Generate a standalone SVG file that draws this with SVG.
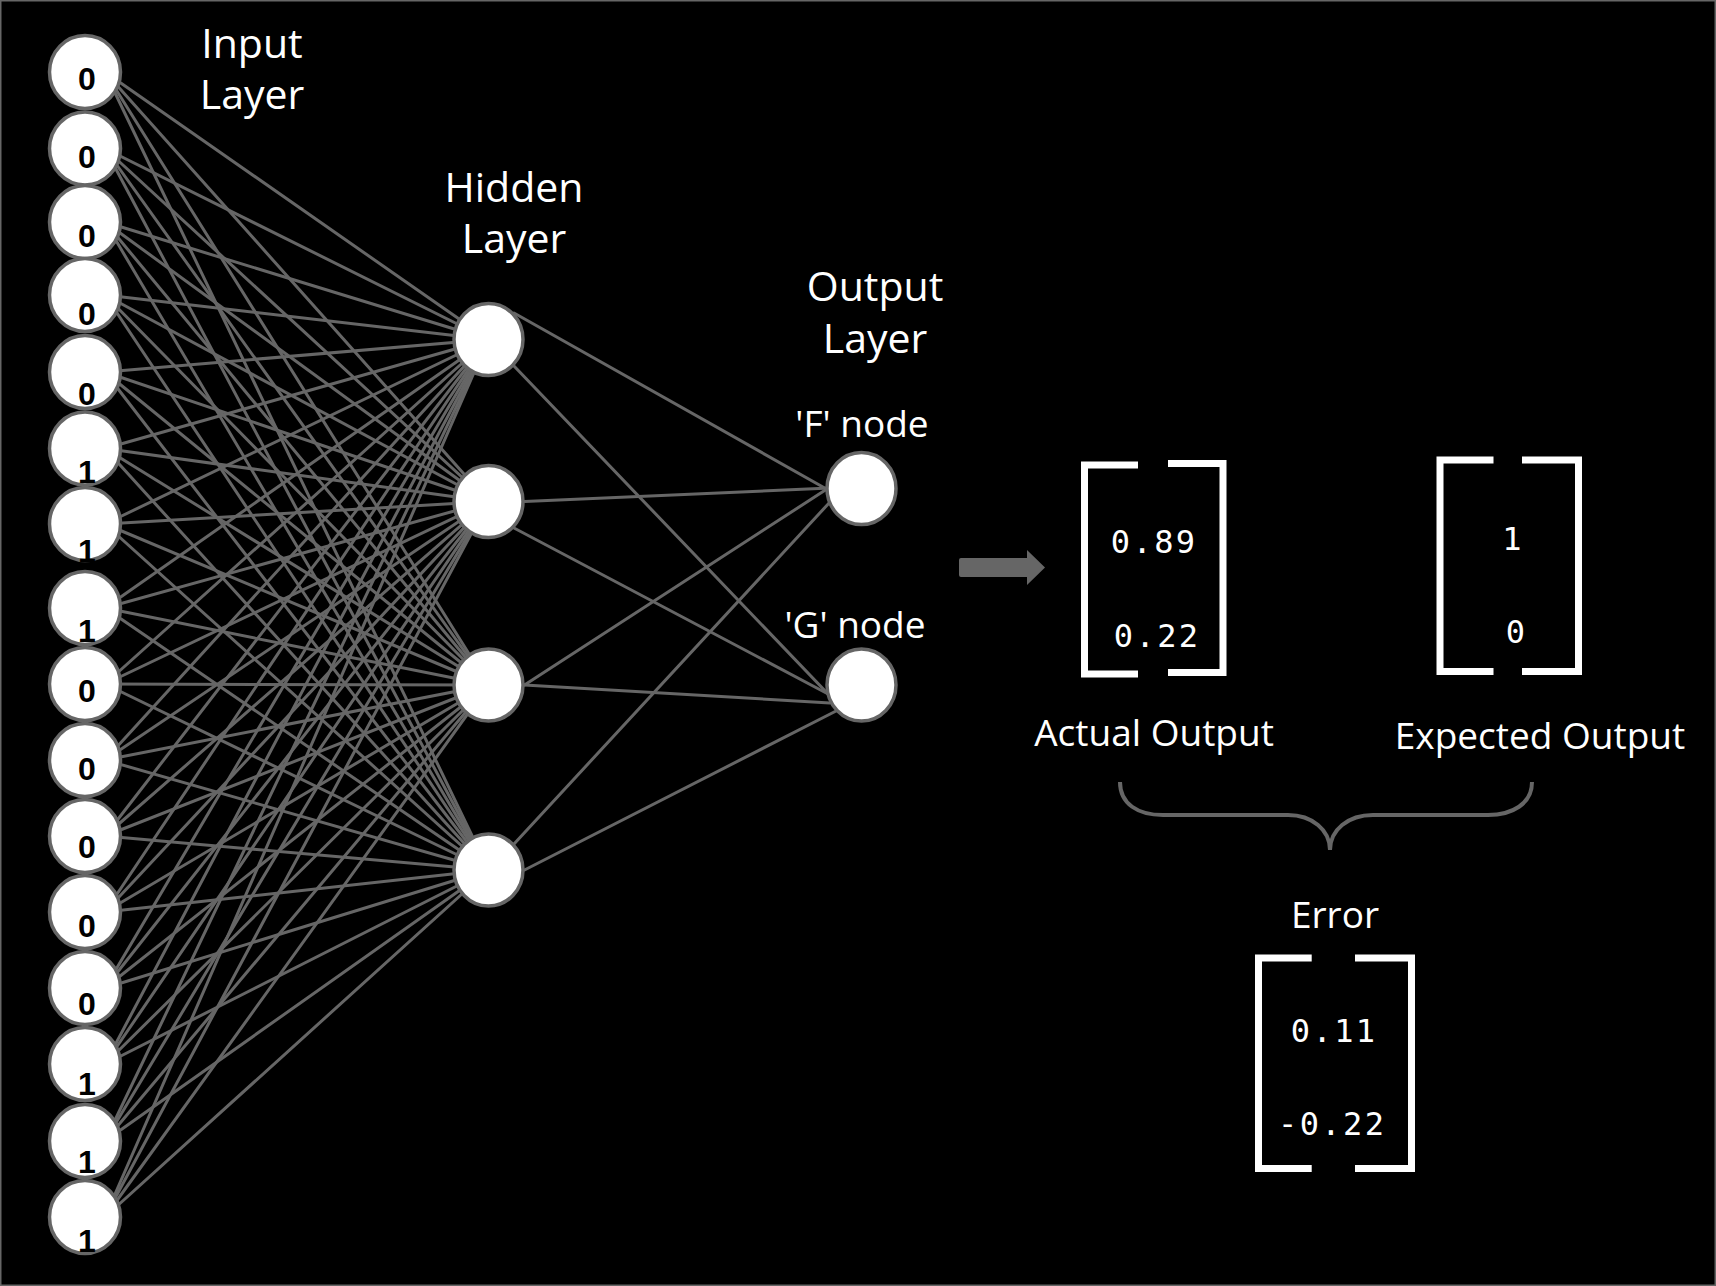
<svg xmlns="http://www.w3.org/2000/svg" width="1716" height="1286" viewBox="0 0 1716 1286">
<defs>
<style>
.lbl{font-family:"Open Sans","Noto Sans","DejaVu Sans",sans-serif;fill:#fff;text-anchor:middle}
.big{font-size:41px}
.mid{font-size:37px}
.dig{font-family:"Liberation Sans",Arial,sans-serif;font-weight:bold;font-size:32px;fill:#000;text-anchor:middle}
.num{font-family:"DejaVu Sans Mono","Liberation Mono",monospace;font-size:32px;letter-spacing:2.4px;fill:#fff;text-anchor:middle}
.inode{fill:#fff;stroke:#666;stroke-width:3.5}
.brk{fill:none;stroke:#fff;stroke-width:7}
</style>
</defs>
<rect x="0.75" y="0.75" width="1714.5" height="1284.5" fill="#000" stroke="#666" stroke-width="1.5"/>

<g id="connectors" stroke="#666" stroke-width="3" fill="none" stroke-linecap="round">
<line x1="105" y1="72" x2="488.5" y2="339.5"/><line x1="105" y1="72" x2="488.5" y2="501.5"/><line x1="105" y1="72" x2="488.5" y2="685"/><line x1="105" y1="72" x2="488.5" y2="870"/>
<line x1="105" y1="148.5" x2="488.5" y2="339.5"/><line x1="105" y1="148.5" x2="488.5" y2="501.5"/><line x1="105" y1="148.5" x2="488.5" y2="685"/><line x1="105" y1="148.5" x2="488.5" y2="870"/>
<line x1="105" y1="222" x2="488.5" y2="339.5"/><line x1="105" y1="222" x2="488.5" y2="501.5"/><line x1="105" y1="222" x2="488.5" y2="685"/><line x1="105" y1="222" x2="488.5" y2="870"/>
<line x1="105" y1="295" x2="488.5" y2="339.5"/><line x1="105" y1="295" x2="488.5" y2="501.5"/><line x1="105" y1="295" x2="488.5" y2="685"/><line x1="105" y1="295" x2="488.5" y2="870"/>
<line x1="105" y1="372" x2="488.5" y2="339.5"/><line x1="105" y1="372" x2="488.5" y2="501.5"/><line x1="105" y1="372" x2="488.5" y2="685"/><line x1="105" y1="372" x2="488.5" y2="870"/>
<line x1="105" y1="448.5" x2="488.5" y2="339.5"/><line x1="105" y1="448.5" x2="488.5" y2="501.5"/><line x1="105" y1="448.5" x2="488.5" y2="685"/><line x1="105" y1="448.5" x2="488.5" y2="870"/>
<line x1="105" y1="524" x2="488.5" y2="339.5"/><line x1="105" y1="524" x2="488.5" y2="501.5"/><line x1="105" y1="524" x2="488.5" y2="685"/><line x1="105" y1="524" x2="488.5" y2="870"/>
<line x1="105" y1="608" x2="488.5" y2="339.5"/><line x1="105" y1="608" x2="488.5" y2="501.5"/><line x1="105" y1="608" x2="488.5" y2="685"/><line x1="105" y1="608" x2="488.5" y2="870"/>
<line x1="105" y1="684" x2="488.5" y2="339.5"/><line x1="105" y1="684" x2="488.5" y2="501.5"/><line x1="105" y1="684" x2="488.5" y2="685"/><line x1="105" y1="684" x2="488.5" y2="870"/>
<line x1="105" y1="760" x2="488.5" y2="339.5"/><line x1="105" y1="760" x2="488.5" y2="501.5"/><line x1="105" y1="760" x2="488.5" y2="685"/><line x1="105" y1="760" x2="488.5" y2="870"/>
<line x1="105" y1="836" x2="488.5" y2="339.5"/><line x1="105" y1="836" x2="488.5" y2="501.5"/><line x1="105" y1="836" x2="488.5" y2="685"/><line x1="105" y1="836" x2="488.5" y2="870"/>
<line x1="105" y1="912" x2="488.5" y2="339.5"/><line x1="105" y1="912" x2="488.5" y2="501.5"/><line x1="105" y1="912" x2="488.5" y2="685"/><line x1="105" y1="912" x2="488.5" y2="870"/>
<line x1="105" y1="988" x2="488.5" y2="339.5"/><line x1="105" y1="988" x2="488.5" y2="501.5"/><line x1="105" y1="988" x2="488.5" y2="685"/><line x1="105" y1="988" x2="488.5" y2="870"/>
<line x1="105" y1="1064" x2="488.5" y2="339.5"/><line x1="105" y1="1064" x2="488.5" y2="501.5"/><line x1="105" y1="1064" x2="488.5" y2="685"/><line x1="105" y1="1064" x2="488.5" y2="870"/>
<line x1="105" y1="1141" x2="488.5" y2="339.5"/><line x1="105" y1="1141" x2="488.5" y2="501.5"/><line x1="105" y1="1141" x2="488.5" y2="685"/><line x1="105" y1="1141" x2="488.5" y2="870"/>
<line x1="105" y1="1217" x2="488.5" y2="339.5"/><line x1="105" y1="1217" x2="488.5" y2="501.5"/><line x1="105" y1="1217" x2="488.5" y2="685"/><line x1="105" y1="1217" x2="488.5" y2="870"/>
<line x1="514" y1="313" x2="830" y2="491"/>
<line x1="514" y1="366" x2="830" y2="696"/>
<line x1="524.5" y1="501.5" x2="830" y2="488"/>
<line x1="514" y1="528" x2="830" y2="695"/>
<line x1="524.5" y1="685" x2="830" y2="487"/>
<line x1="524.5" y1="685" x2="830" y2="703"/>
<line x1="514" y1="844" x2="830" y2="502"/>
<line x1="524.5" y1="870" x2="840" y2="709"/>
</g>

<g id="input-nodes">
<g id="in1"><ellipse class="inode" cx="85" cy="72" rx="35.5" ry="36.5"/><text class="dig" x="87" y="90">0</text></g>
<g id="in2"><ellipse class="inode" cx="85" cy="148.5" rx="35.5" ry="36.5"/><text class="dig" x="87" y="168">0</text></g>
<g id="in3"><ellipse class="inode" cx="85" cy="222" rx="35.5" ry="36.5"/><text class="dig" x="87" y="247">0</text></g>
<g id="in4"><ellipse class="inode" cx="85" cy="295" rx="35.5" ry="36.5"/><text class="dig" x="87" y="325">0</text></g>
<g id="in5"><ellipse class="inode" cx="85" cy="372" rx="35.5" ry="36.5"/><text class="dig" x="87" y="405">0</text></g>
<g id="in6"><ellipse class="inode" cx="85" cy="448.5" rx="35.5" ry="36.5"/><text class="dig" x="87" y="483">1</text></g>
<g id="in7"><ellipse class="inode" cx="85" cy="524" rx="35.5" ry="36.5"/><text class="dig" x="87" y="562">1</text></g>
<g id="in8"><ellipse class="inode" cx="85" cy="608" rx="35.5" ry="36.5"/><text class="dig" x="87" y="642">1</text></g>
<g id="in9"><ellipse class="inode" cx="85" cy="684" rx="35.5" ry="36.5"/><text class="dig" x="87" y="702">0</text></g>
<g id="in10"><ellipse class="inode" cx="85" cy="760" rx="35.5" ry="36.5"/><text class="dig" x="87" y="780">0</text></g>
<g id="in11"><ellipse class="inode" cx="85" cy="836" rx="35.5" ry="36.5"/><text class="dig" x="87" y="858">0</text></g>
<g id="in12"><ellipse class="inode" cx="85" cy="912" rx="35.5" ry="36.5"/><text class="dig" x="87" y="937">0</text></g>
<g id="in13"><ellipse class="inode" cx="85" cy="988" rx="35.5" ry="36.5"/><text class="dig" x="87" y="1015">0</text></g>
<g id="in14"><ellipse class="inode" cx="85" cy="1064" rx="35.5" ry="36.5"/><text class="dig" x="87" y="1095">1</text></g>
<g id="in15"><ellipse class="inode" cx="85" cy="1141" rx="35.5" ry="36.5"/><text class="dig" x="87" y="1173">1</text></g>
<g id="in16"><ellipse class="inode" cx="85" cy="1217" rx="35.5" ry="36.5"/><text class="dig" x="87" y="1252">1</text></g>
</g>

<g id="hidden-nodes">
<g id="h1"><ellipse class="inode" cx="488.5" cy="339.5" rx="34.5" ry="36"/></g>
<g id="h2"><ellipse class="inode" cx="488.5" cy="501.5" rx="34.5" ry="36"/></g>
<g id="h3"><ellipse class="inode" cx="488.5" cy="685" rx="34.5" ry="36"/></g>
<g id="h4"><ellipse class="inode" cx="488.5" cy="870" rx="34.5" ry="36"/></g>
</g>

<g id="output-nodes">
<g id="out-f"><ellipse class="inode" cx="861.5" cy="488.5" rx="34.5" ry="36"/><text class="lbl mid" x="862" y="437">'F' node</text></g>
<g id="out-g"><ellipse class="inode" cx="861.5" cy="685" rx="34.5" ry="36"/><text class="lbl mid" x="855" y="638">'G' node</text></g>
</g>

<g id="layer-labels">
<text class="lbl big"><tspan x="252" y="58">Input</tspan><tspan x="252" y="109">Layer</tspan></text>
<text class="lbl big"><tspan x="514" y="202">Hidden</tspan><tspan x="514" y="253">Layer</tspan></text>
<text class="lbl big"><tspan x="875" y="301">Output</tspan><tspan x="875" y="353">Layer</tspan></text>
</g>

<g id="arrow">
<path d="M961,558 H1027 V550 L1045,567.5 L1027,585 V577 H961 Q959,577 959,575 V560 Q959,558 961,558 Z" fill="#666"/>
</g>

<g id="actual-output">
<path class="brk" d="M1138,465 H1084.5 V674 H1138"/>
<path class="brk" d="M1168,463.5 H1223 V672.5 H1168"/>
<text class="num" x="1154.2" y="553">0.89</text>
<text class="num" x="1157.2" y="647">0.22</text>
<text class="lbl mid" x="1154" y="746">Actual Output</text>
</g>

<g id="expected-output">
<path class="brk" d="M1493.5,460 H1440 V671.5 H1493.5"/>
<path class="brk" d="M1522,460 H1578.5 V671.5 H1522"/>
<text class="num" x="1513" y="550">1</text>
<text class="num" x="1516.5" y="643">0</text>
<text class="lbl mid" x="1540" y="749">Expected Output</text>
</g>

<g id="brace">
<path d="M1120,782 C1120,804 1138,815 1163,815 L1288,815 C1312,815 1330,830 1330,850 C1330,830 1348,815 1373,815 L1488,815 C1512,815 1532,804 1532,782" fill="none" stroke="#666" stroke-width="4"/>
</g>

<g id="error">
<text class="lbl mid" x="1335" y="928">Error</text>
<path class="brk" d="M1311.7,958 H1258.5 V1168.5 H1311.7"/>
<path class="brk" d="M1355,958 H1411.5 V1168.5 H1355"/>
<text class="num" x="1334.2" y="1042">0.11</text>
<text class="num" x="1332.2" y="1135">-0.22</text>
</g>
</svg>
